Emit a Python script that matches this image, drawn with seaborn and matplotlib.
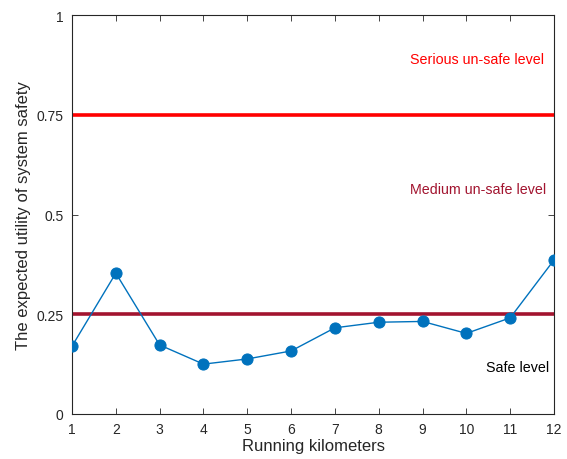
import matplotlib
matplotlib.use("Agg")
import matplotlib.pyplot as plt
import seaborn as sns
import pandas as pd

# Expected safety utility per running kilometer
kilometers = [1, 2, 3, 4, 5, 6, 7, 8, 9, 10, 11, 12]
utility = [0.170, 0.353, 0.173, 0.125, 0.138, 0.158, 0.216, 0.230, 0.232, 0.202, 0.241, 0.386]

# Threshold levels
serious_level = 0.75
medium_level = 0.25

y_ticks = [0, 0.25, 0.5, 0.75, 1]
y_tick_labels = ["0", "0.25", "0.5", "0.75", "1"]

sns.set_style("white")
plt.rcParams["font.family"] = ["Liberation Sans", "DejaVu Sans"]

df = pd.DataFrame({"km": kilometers, "utility": utility})

fig = plt.figure(figsize=(5.67, 4.6), dpi=100)
ax = fig.add_axes([72 / 567, 45 / 460, 482 / 567, 399 / 460])

ax.axhline(serious_level, color="#FF0000", lw=2.6, zorder=1)
ax.axhline(medium_level, color="#A2142F", lw=2.6, zorder=1)

sns.lineplot(data=df, x="km", y="utility", ax=ax, color="#0072BD",
             lw=1.0, marker="o", markersize=8, markeredgecolor="#0072BD",
             zorder=3)

ax.text(11.78, 0.89, "Serious un-safe level", color="#FF0000",
        ha="right", va="center", fontsize=10.3)
ax.text(11.82, 0.565, "Medium un-safe level", color="#A2142F",
        ha="right", va="center", fontsize=10.3)
ax.text(11.88, 0.118, "Safe level", color="black",
        ha="right", va="center", fontsize=10.3)

ax.set_xlim(1, 12)
ax.set_ylim(0, 1)
ax.set_xticks(kilometers)
ax.set_yticks(y_ticks)
ax.set_yticklabels(y_tick_labels)
ax.tick_params(direction="in", length=4, width=0.6, colors="#262626",
               labelsize=10, bottom=True, left=True, top=True, right=True,
               labeltop=False, labelright=False, pad=6)
for side in ["left", "bottom", "right", "top"]:
    ax.spines[side].set_visible(True)
    ax.spines[side].set_color("#262626")
    ax.spines[side].set_linewidth(0.8)

ax.set_xlabel("Running kilometers", fontsize=12, color="#262626", labelpad=1)
ax.set_ylabel("The expected utility of system safety", fontsize=12,
              color="#262626", labelpad=4)

fig.savefig("out.png", dpi=100, facecolor="white")
